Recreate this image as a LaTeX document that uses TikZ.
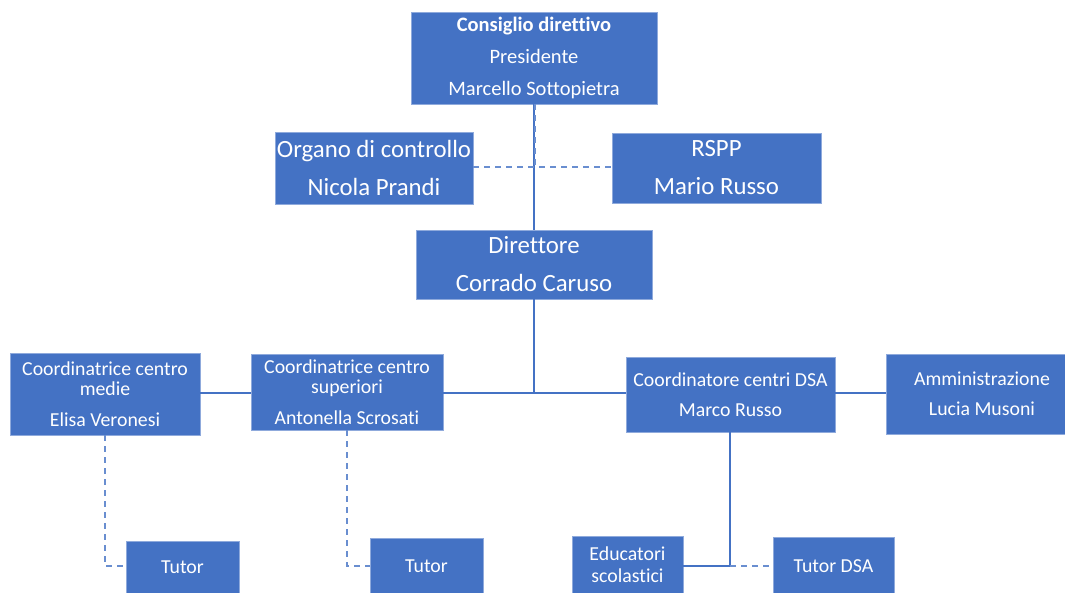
\documentclass[tikz,border=0pt]{standalone}
\usepackage{fontspec}
\setmainfont{Carlito}[Ligatures=NoCommon]
\definecolor{acc}{HTML}{4472C4}
\definecolor{edge}{HTML}{8FAADC}
\begin{document}
\begin{tikzpicture}[x=1pt,y=1pt,
  box/.style={fill=acc, draw=edge, line width=0.6pt, text=white, align=center, inner sep=0pt, font=\fontsize{19.8}{20}\selectfont},
  big/.style={font=\fontsize{24.8}{38}\selectfont},
  mid/.style={font=\fontsize{20.5}{32}\selectfont},
  con/.style={draw=acc, line width=1.5pt},
  dcon/.style={draw=acc!80, line width=1.5pt, dash pattern=on 6pt off 5pt}]
\useasboundingbox (0,0) rectangle (1065,-592);
\fill[white] (0,0) rectangle (1065,-592);
% nodes
\node[box, mid, minimum width=246, minimum height=92] (cd) at (534,-58) {\textbf{Consiglio direttivo}\\Presidente\\Marcello Sottopietra};
\node[box, big, minimum width=198, minimum height=72] (oc) at (374,-168) {Organo di controllo\\Nicola Prandi};
\node[box, big, minimum width=209, minimum height=70] (rs) at (716.5,-168) {RSPP\\Mario Russo};
\node[box, big, minimum width=236, minimum height=69] (di) at (534,-264.5) {Direttore\\Corrado Caruso};
\node[box, minimum width=190, minimum height=82] (cm) at (105,-394) {Coordinatrice centro\\medie\\[11pt]Elisa Veronesi};
\node[box, minimum width=192, minimum height=76] (cs) at (347,-392) {Coordinatrice centro\\superiori\\[11pt]Antonella Scrosati};
\node[box, font=\fontsize{19.8}{30}\selectfont, minimum width=209, minimum height=75] (cdsa) at (730.5,-394.5) {Coordinatore centri DSA\\Marco Russo};
\node[box, font=\fontsize{19.8}{30}\selectfont, minimum width=192, minimum height=80] (am) at (982,-394) {Amministrazione\\Lucia Musoni};
\node[box, minimum width=113, minimum height=52] (t1) at (182.5,-567) {Tutor};
\node[box, minimum width=113, minimum height=56] (t2) at (426.5,-566) {Tutor};
\node[box, font=\fontsize{19.8}{22}\selectfont, minimum width=111, minimum height=58] (ed) at (627.5,-565) {Educatori\\scolastici};
\node[box, minimum width=121, minimum height=58] (td) at (833.5,-566) {Tutor DSA};
% coordinates
\coordinate (j1) at (534,-167);
\coordinate (j2) at (534,-393);
\coordinate (k1) at (105,-566);
\coordinate (k2) at (347,-566);
\coordinate (k3) at (730,-566);
% connectors
\draw[con] (cd.south) -- (di.north);
\draw[dcon] (535,-104) -- (535,-167);
\draw[dcon] (oc.east |- j1) -- (rs.west |- j1);
\draw[con] (di.south) -- (j2);
\draw[con] (cs.east |- j2) -- (cdsa.west |- j2);
\draw[con] (cm.east |- j2) -- (cs.west |- j2);
\draw[con] (cdsa.east |- j2) -- (am.west |- j2);
\draw[dcon] (cm.south) -- (k1) -- (t1.west |- k1);
\draw[dcon] (cs.south) -- (k2) -- (t2.west |- k2);
\draw[con] (cdsa.south -| k3) -- (k3) -- (ed.east |- k3);
\draw[dcon] (k3) -- (td.west |- k3);
\end{tikzpicture}
\end{document}
